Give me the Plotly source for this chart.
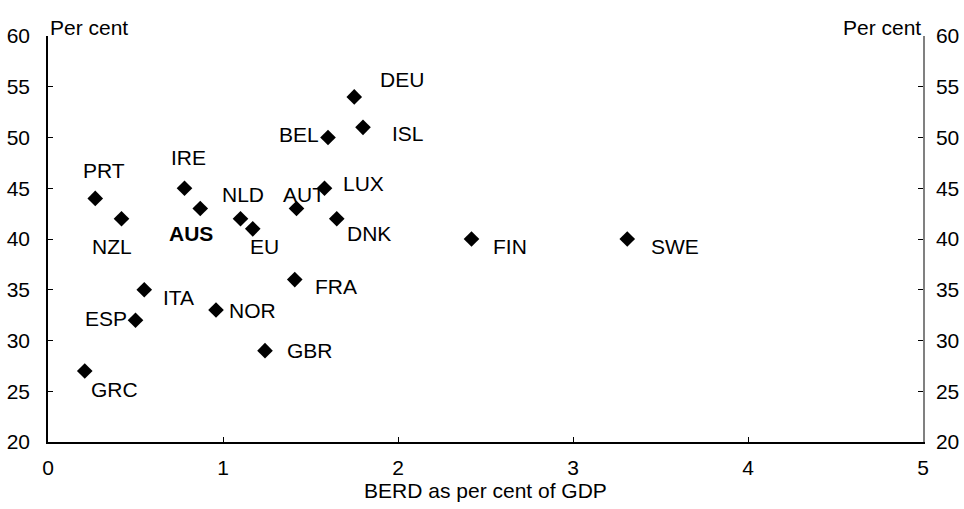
import plotly.graph_objects as go

countries = ["PRT", "NZL", "IRE", "AUS", "NLD", "EU", "AUT", "LUX", "DNK", "ITA",
             "ESP", "NOR", "FRA", "GBR", "GRC", "DEU", "BEL", "ISL", "FIN", "SWE"]
berd = [0.27, 0.42, 0.78, 0.87, 1.10, 1.17, 1.42, 1.58, 1.65, 0.55,
        0.50, 0.96, 1.41, 1.24, 0.21, 1.75, 1.60, 1.80, 2.42, 3.31]
share = [44, 42, 45, 43, 42, 41, 43, 45, 42, 35,
         32, 33, 36, 29, 27, 54, 50, 51, 40, 40]
# label offsets in pixels (dx right, dy down)
label_dx = [9, -10, 4, -9, 2, 12, 7, 39, 32, 34, -30, 36, 41, 45, 30, 48, -29, 45, 38, 48]
label_dy = [-28, 28, -31, 25, -24, 18, -14, -5, 15, 8, -2, 0, 7, 0, 19, -17, -3, 6, 7, 7]

y_ticks = [20, 25, 30, 35, 40, 45, 50, 55, 60]
x_ticks = [0, 1, 2, 3, 4, 5]

FONT = "Liberation Sans, Arial, sans-serif"
FS = 21

fig = go.Figure()
fig.add_trace(go.Scatter(
    x=berd, y=share, mode="markers",
    marker=dict(symbol="diamond", size=12, color="black"),
    hoverinfo="text", text=countries, showlegend=False))
fig.add_trace(go.Scatter(x=[0, 5], y=[20, 60], yaxis="y2", mode="markers",
                         marker=dict(opacity=0), showlegend=False, hoverinfo="skip"))

annotations = []
for c, xv, yv, dx, dy in zip(countries, berd, share, label_dx, label_dy):
    txt = "<b>%s</b>" % c if c == "AUS" else c
    annotations.append(dict(x=xv, y=yv, xref="x", yref="y", text=txt, showarrow=False,
                            xshift=dx, yshift=-dy, font=dict(size=FS, color="black", family=FONT)))
annotations.append(dict(x=0, y=1, xref="paper", yref="paper", text="Per cent", showarrow=False,
                        xanchor="left", yanchor="bottom", xshift=0, yshift=-5,
                        font=dict(size=FS, color="black", family=FONT)))
annotations.append(dict(x=1, y=1, xref="paper", yref="paper", text="Per cent", showarrow=False,
                        xanchor="right", yanchor="bottom", xshift=0, yshift=-5,
                        font=dict(size=FS, color="black", family=FONT)))

fig.update_layout(
    width=964, height=509,
    margin=dict(l=48, r=41, t=36, b=67),
    paper_bgcolor="white", plot_bgcolor="white",
    font=dict(family=FONT, size=FS, color="black"),
    xaxis=dict(range=[0, 5], tickvals=x_ticks, showgrid=False, zeroline=False,
               showline=True, linecolor="black", linewidth=1.5, automargin=False,
               ticks="inside", ticklen=5, tickcolor="black", ticklabelstandoff=6,
               title=dict(text="BERD as per cent of GDP", font=dict(size=FS), standoff=2)),
    yaxis=dict(range=[20, 60], tickvals=y_ticks, showgrid=False, zeroline=False,
               showline=True, linecolor="black", linewidth=1.5, automargin=False,
               ticks="inside", ticklen=5, tickcolor="black", ticklabelstandoff=12),
    yaxis2=dict(range=[20, 60], tickvals=y_ticks, overlaying="y", side="right",
                showgrid=False, zeroline=False, showline=True, linecolor="#808080",
                linewidth=1.5, automargin=False, ticklabelstandoff=7,
                ticks="inside", ticklen=5, tickcolor="black"),
    annotations=annotations,
)

fig.write_html("out.html", config={"displayModeBar": False},
               post_script="document.body.style.margin='0';document.body.style.overflow='hidden';")
